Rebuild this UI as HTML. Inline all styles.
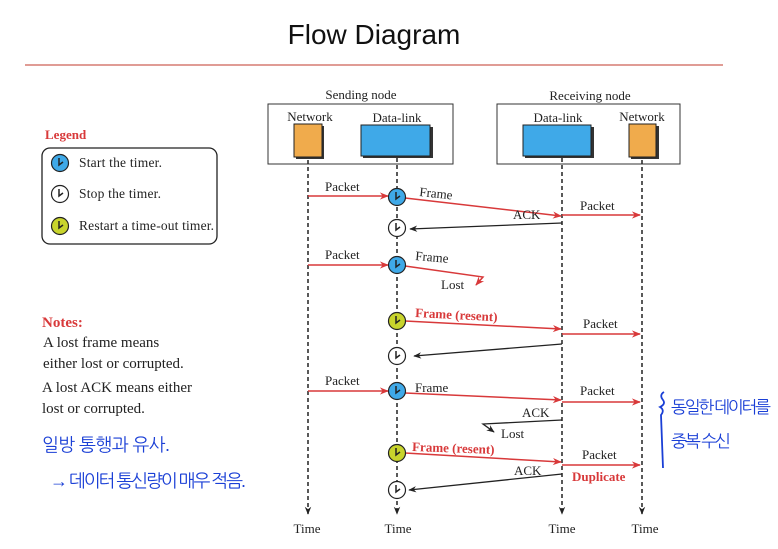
<!DOCTYPE html>
<html><head><meta charset="utf-8"><style>
html,body{margin:0;padding:0;background:#fff;}
svg{display:block;}
.s{font-family:"Liberation Serif",serif;fill:#222;}
.h{font-family:"Liberation Sans","NanumGothic",sans-serif;fill:#1a3fd6;}
</style></head><body>
<svg width="778" height="549" viewBox="0 0 778 549" xmlns="http://www.w3.org/2000/svg">
<defs>
<marker id="ar" viewBox="0 0 10 10" refX="9" refY="5" markerWidth="13" markerHeight="9" orient="auto" markerUnits="userSpaceOnUse"><path d="M0,1 L10,5 L0,9 L3,5z" fill="#d8393a"/></marker>
<marker id="ab" viewBox="0 0 10 10" refX="9" refY="5" markerWidth="10" markerHeight="8" orient="auto" markerUnits="userSpaceOnUse"><path d="M0,1 L10,5 L0,9 L3,5z" fill="#222"/></marker>
<g id="ck"><circle r="8.5" stroke="#222" stroke-width="1.2"/><path d="M-1,-5 L-1,2 L3,-1" fill="none" stroke="#222" stroke-width="1.5"/></g>
</defs>
<text x="374" y="44" text-anchor="middle" font-family="Liberation Sans,sans-serif" font-size="28" fill="#111">Flow Diagram</text>
<line x1="25" y1="65" x2="723" y2="65" stroke="#c0392b" stroke-width="1"/>

<text x="361" y="99" text-anchor="middle" class="s" font-size="13">Sending node</text>
<text x="590" y="100" text-anchor="middle" class="s" font-size="13">Receiving node</text>
<rect x="268" y="104" width="185" height="60" fill="none" stroke="#333"/>
<rect x="497" y="104" width="183" height="60" fill="none" stroke="#333"/>
<text x="310" y="121" text-anchor="middle" class="s" font-size="13">Network</text>
<text x="397" y="122" text-anchor="middle" class="s" font-size="13">Data-link</text>
<text x="558" y="122" text-anchor="middle" class="s" font-size="13">Data-link</text>
<text x="642" y="121" text-anchor="middle" class="s" font-size="13">Network</text>
<rect x="296" y="126" width="28" height="33" fill="#333"/><rect x="294" y="124" width="28" height="33" fill="#f0ab4c" stroke="#222"/>
<rect x="363" y="127" width="70" height="31" fill="#333"/><rect x="361" y="125" width="69" height="31" fill="#3fa9e8" stroke="#222"/>
<rect x="525" y="127" width="69" height="31" fill="#333"/><rect x="523" y="125" width="68" height="31" fill="#3fa9e8" stroke="#222"/>
<rect x="631" y="126" width="28" height="33" fill="#333"/><rect x="629" y="124" width="27" height="33" fill="#f0ab4c" stroke="#222"/>

<g stroke="#222" stroke-width="1.5" stroke-dasharray="4,3" marker-end="url(#ab)">
<line x1="308" y1="160" x2="308" y2="514"/>
<line x1="397" y1="158" x2="397" y2="514"/>
<line x1="562" y1="158" x2="562" y2="514"/>
<line x1="642" y1="160" x2="642" y2="514"/>
</g>
<g class="s" font-size="13" text-anchor="middle">
<text x="307" y="533">Time</text><text x="398" y="533">Time</text><text x="562" y="533">Time</text><text x="645" y="533">Time</text>
</g>

<g stroke="#d8393a" stroke-width="1.5" fill="none" marker-end="url(#ar)">
<line x1="308" y1="196" x2="388" y2="196"/>
<line x1="405" y1="198" x2="561" y2="216"/>
<line x1="562" y1="215" x2="640" y2="215"/>
<polyline points="405,266 483,277 476,285"/>
<line x1="405" y1="321" x2="561" y2="329"/>
<line x1="562" y1="334" x2="640" y2="334"/>
<line x1="308" y1="391" x2="388" y2="391"/>
<line x1="405" y1="393" x2="561" y2="400"/>
<line x1="562" y1="402" x2="640" y2="402"/>
<line x1="308" y1="265" x2="388" y2="265"/>
<line x1="405" y1="453" x2="561" y2="462"/>
<line x1="562" y1="465" x2="640" y2="465"/>
</g>
<g stroke="#222" stroke-width="1.3" fill="none" marker-end="url(#ab)">
<line x1="562" y1="223" x2="410" y2="229"/>
<line x1="562" y1="344" x2="414" y2="356"/>
<polyline points="562,420 483,424 494,432"/>
<line x1="562" y1="474" x2="409" y2="490"/>
</g>

<use href="#ck" x="397" y="197" fill="#3fa9e8"/>
<use href="#ck" x="397" y="228" fill="#fff"/>
<use href="#ck" x="397" y="265" fill="#3fa9e8"/>
<use href="#ck" x="397" y="321" fill="#c8d42c"/>
<use href="#ck" x="397" y="356" fill="#fff"/>
<use href="#ck" x="397" y="391" fill="#3fa9e8"/>
<use href="#ck" x="397" y="453" fill="#c8d42c"/>
<use href="#ck" x="397" y="490" fill="#fff"/>

<g class="s" font-size="13">
<text x="325" y="191">Packet</text>
<text x="419" y="196" transform="rotate(6 419 196)">Frame</text>
<text x="580" y="210">Packet</text>
<text x="513" y="219">ACK</text>
<text x="325" y="259">Packet</text>
<text x="415" y="260" transform="rotate(5 415 260)">Frame</text>
<text x="441" y="289">Lost</text>
<text x="583" y="328">Packet</text>
<text x="325" y="385">Packet</text>
<text x="415" y="392">Frame</text>
<text x="580" y="395">Packet</text>
<text x="522" y="417">ACK</text>
<text x="501" y="438">Lost</text>
<text x="582" y="459">Packet</text>
<text x="514" y="475">ACK</text>
</g>
<g font-family="Liberation Serif,serif" font-weight="bold" font-size="13" fill="#d8393a">
<text x="415" y="317" transform="rotate(3 415 317)">Frame (resent)</text>
<text x="412" y="451" transform="rotate(2 412 451)">Frame (resent)</text>
<text x="572" y="481">Duplicate</text>
</g>

<text x="45" y="139" font-family="Liberation Serif,serif" font-weight="bold" font-size="13" fill="#d8393a">Legend</text>
<rect x="42" y="148" width="175" height="96" rx="8" fill="none" stroke="#222" stroke-width="1.3"/>
<use href="#ck" x="60" y="163" fill="#3fa9e8"/>
<use href="#ck" x="60" y="194" fill="#fff"/>
<use href="#ck" x="60" y="226" fill="#c8d42c"/>
<g class="s" font-size="13.5">
<text x="79" y="167" textLength="83">Start the timer.</text>
<text x="79" y="198" textLength="82">Stop the timer.</text>
<text x="79" y="230" textLength="135">Restart a time-out timer.</text>
</g>
<text x="42" y="327" font-family="Liberation Serif,serif" font-weight="bold" font-size="15" fill="#d8393a">Notes:</text>
<g class="s" font-size="15">
<text x="43" y="347">A lost frame means</text>
<text x="43" y="368">either lost or corrupted.</text>
<text x="42" y="392">A lost ACK means either</text>
<text x="42" y="413">lost or corrupted.</text>
</g>
<text x="42" y="451" class="h" font-size="18" textLength="128">일방 통행과 유사.</text>
<text x="50" y="487" class="h" font-size="18" textLength="196">→ 데이터 통신량이 매우 적음.</text>

<path d="M664,392 q-5,3 -1,8 q3,4 -3,7 q5,3 1,8 L663,468" fill="none" stroke="#1a3fd6" stroke-width="1.8"/>
<text x="671" y="413" class="h" font-size="17" textLength="100">동일한 데이터를</text>
<text x="671" y="447" class="h" font-size="17" textLength="60">중복 수신</text>
</svg>
</body></html>
